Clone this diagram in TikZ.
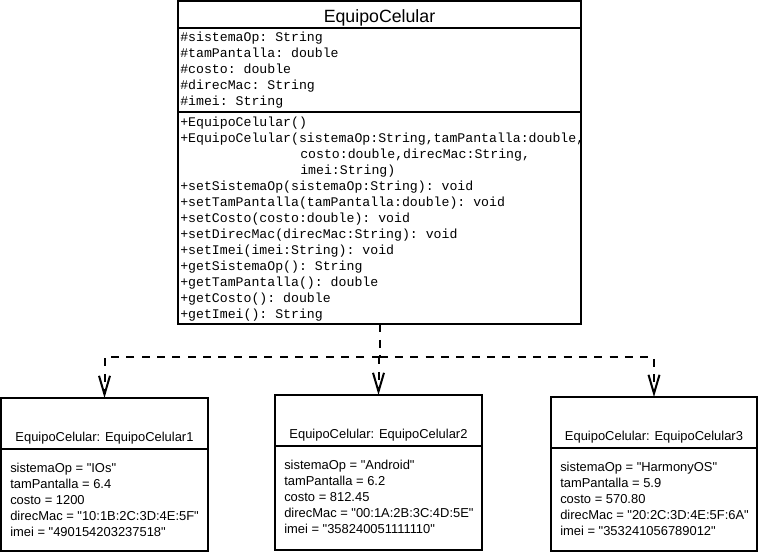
\documentclass[tikz,border=0pt]{standalone}
\usepackage{fontspec}
\setmainfont{Liberation Sans}
\setmonofont{Liberation Mono}
\newfontfamily\fuenteobj{Liberation Sans}
\usetikzlibrary{arrows.meta,positioning}
\newcommand{\lineas}[1]{%
  \begin{tabular}[t]{@{}l@{}}#1\end{tabular}%
}
\newcommand{\valores}[5]{%
  \begin{tabular}[t]{@{}l@{}}
    sistemaOp = "#1"\\ tamPantalla = #2\\ costo = #3\\
    direcMac = "#4"\\ imei = "#5"
  \end{tabular}%
}

\begin{document}
\begin{tikzpicture}[
    x=0.75pt, y=-0.75pt,
    caja/.style={draw, line width=1.5pt, inner sep=0pt, outer sep=0pt, anchor=north west},
    titulo/.style={inner sep=0pt, anchor=base, font=\fontsize{13.3}{16}\selectfont},
    mono/.style={inner sep=0pt, anchor=base west, font=\ttfamily\fontsize{9.9}{12}\selectfont},
    texto/.style={inner sep=0pt, font=\fuenteobj\fontsize{9.7}{12}\selectfont},
    depende/.style={line width=1.5pt, dash pattern=on 6pt off 5.5pt},
    flecha/.style={-{Straight Barb[length=14pt,width=8.25pt]}}
  ]
  \useasboundingbox (0,0) rectangle (758,553);

  % clase
  \node[caja, minimum width=302.25pt, minimum height=20.6pt] (claseNombre) at (178,1) {};
  \node[caja, minimum width=302.25pt, minimum height=63pt, below=0pt of claseNombre] (claseAtrib) {};
  \node[caja, minimum width=302.25pt, minimum height=159pt, below=0pt of claseAtrib] (claseMet) {};
  \node[titulo] (nombreClase) at ([yshift=-16.3pt]claseNombre.north) {EquipoCelular};
  \node[mono] (atributos) at ([xshift=1.5pt,yshift=-10.1pt]claseAtrib.north west) {\lineas{%
    \#sistemaOp: String\\ \#tamPantalla: double\\ \#costo: double\\
    \#direcMac: String\\ \#imei: String}};
  \node[mono] (metodos) at ([xshift=1.5pt,yshift=-10.65pt]claseMet.north west) {\lineas{%
    +EquipoCelular()\\
    +EquipoCelular(sistemaOp:String,tamPantalla:double,\\
    \hspace*{90pt}costo:double,direcMac:String,\\
    \hspace*{90pt}imei:String)\\
    +setSistemaOp(sistemaOp:String): void\\
    +setTamPantalla(tamPantalla:double): void\\
    +setCosto(costo:double): void\\
    +setDirecMac(direcMac:String): void\\
    +setImei(imei:String): void\\
    +getSistemaOp(): String\\
    +getTamPantalla(): double\\
    +getCosto(): double\\
    +getImei(): String}};

  % objetos
  \node[caja, minimum width=155.25pt, minimum height=38.25pt] (objNombre1) at (1,398) {};
  \node[caja, minimum width=155.25pt, minimum height=76.5pt, below=0pt of objNombre1] (objAtrib1) {};
  \node[texto, anchor=base] (titulo1) at ([yshift=-32.25pt]objNombre1.north) {EquipoCelular: EquipoCelular1};
  \node[texto, anchor=base west] (valores1) at ([xshift=6.75pt,yshift=-17.25pt]objAtrib1.north west)
    {\valores{IOs}{6.4}{1200}{10:1B:2C:3D:4E:5F}{490154203237518}};

  \node[caja, minimum width=155.25pt, minimum height=38.25pt] (objNombre2) at (275,395) {};
  \node[caja, minimum width=155.25pt, minimum height=78pt, below=0pt of objNombre2] (objAtrib2) {};
  \node[texto, anchor=base] (titulo2) at ([yshift=-32.25pt]objNombre2.north) {EquipoCelular: EquipoCelular2};
  \node[texto, anchor=base west] (valores2) at ([xshift=6.75pt,yshift=-17.25pt]objAtrib2.north west)
    {\valores{Android}{6.2}{812.45}{00:1A:2B:3C:4D:5E}{358240051111110}};

  \node[caja, minimum width=154.5pt, minimum height=38.25pt] (objNombre3) at (551,397) {};
  \node[caja, minimum width=154.5pt, minimum height=77.5pt, below=0pt of objNombre3] (objAtrib3) {};
  \node[texto, anchor=base] (titulo3) at ([yshift=-32.25pt]objNombre3.north) {EquipoCelular: EquipoCelular3};
  \node[texto, anchor=base west] (valores3) at ([xshift=6.75pt,yshift=-17.25pt]objAtrib3.north west)
    {\valores{HarmonyOS}{5.9}{570.80}{20:2C:3D:4E:5F:6A}{353241056789012}};

  % dependencias
  \coordinate (bifurcacion) at ([yshift=-24.75pt]claseMet.south);
  \draw[depende] (claseMet.south) -- (bifurcacion);
  \draw[depende, flecha] (bifurcacion) -| (objNombre1.north);
  \draw[depende, flecha] (bifurcacion) -| (objNombre2.north);
  \draw[depende, flecha] (bifurcacion) -| (objNombre3.north);
\end{tikzpicture}
\end{document}
